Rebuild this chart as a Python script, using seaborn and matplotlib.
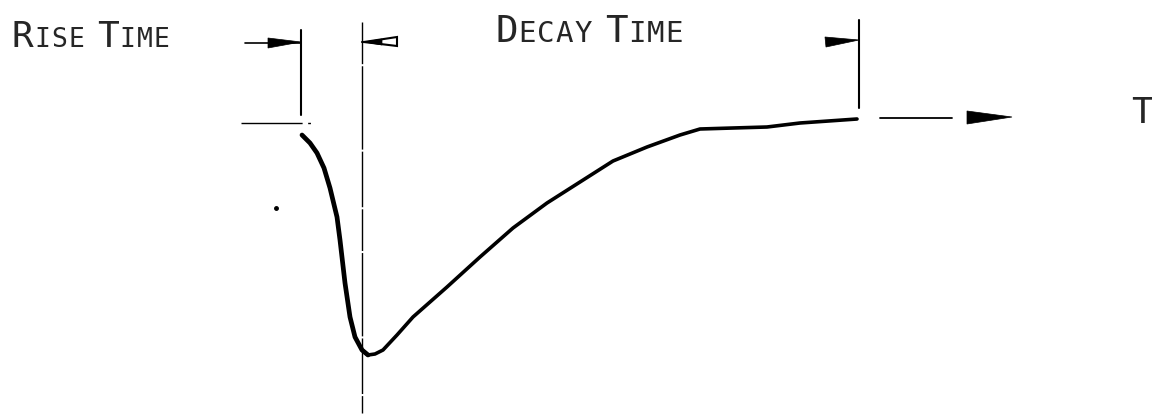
import numpy as np
import matplotlib
matplotlib.use("Agg")
import matplotlib.pyplot as plt
import seaborn as sns
import pandas as pd

# ---------------- data (time units arbitrary, amplitude relative to baseline) ----
pulse_t = [0, 8, 15, 22, 28, 35, 38, 43, 48, 53, 60, 66, 73, 81, 95, 111, 128,
           145, 178, 211, 245, 278, 311, 345, 378, 398, 431, 465, 498, 555]
pulse_a = [-12, -20, -30, -45, -65, -94, -117, -160, -194, -214, -227, -232,
           -231, -227, -212, -194, -179, -164, -134, -105, -80, -59, -38, -24,
           -12, -6, -5, -4, 0, 4]
rise_start = -1
peak_time = 60
decay_end = 557
labels = ["Rise Time", "Decay Time"]
axis_label = "T"

sns.set_style("white")
plt.rcParams['font.family'] = ['DejaVu Sans']

fig = plt.figure(figsize=(11.52, 4.19), dpi=100)
ax = fig.add_axes([0, 0, 1, 1])
ax.set_xlim(-302, 850)
ax.set_ylim(-296, 123)
ax.axis("off")

df = pd.DataFrame({"t": pulse_t, "a": pulse_a})
fall = df[df["t"] <= 66]
decay = df[df["t"] >= 60]
sns.lineplot(data=fall, x="t", y="a", ax=ax, color="black", lw=3.4,
             sort=False, solid_capstyle="round", solid_joinstyle="round")
sns.lineplot(data=decay, x="t", y="a", ax=ax, color="black", lw=2.6,
             sort=False, solid_capstyle="round", solid_joinstyle="round")

# baseline (left, dashed) and right continuation
ax.plot([-61, 31], [0, 0], color="black", lw=1.0,
        dashes=(44, 4, 2, 24, 5, 12, 1, 100))
ax.plot([decay_end + 21, decay_end + 93], [5, 5], color="black", lw=1.3)
# arrow head on time axis
ax.fill([decay_end + 108, decay_end + 108, decay_end + 153],
        [12, -1, 6], color="black", lw=0.5)

# vertical markers
ax.plot([rise_start, rise_start], [93, 8], color="black", lw=1.5)
ax.plot([peak_time, peak_time], [101, -290], color="black", lw=1.0,
        dashes=(30, 1.5, 60, 1.5, 40, 1.5))
ax.plot([decay_end, decay_end], [103, 15], color="black", lw=1.5)

# stray dot of the original drawing
ax.plot([-26], [-85], marker="o", ms=2.5, color="black")

# rise arrow (pointing right to rise start)
yA = 80
ax.plot([rise_start - 56, rise_start], [yA, yA], color="black", lw=1.2)
ax.fill([rise_start - 33, rise_start - 33, rise_start],
        [yA + 5, yA - 5, yA + 1], color="black", lw=0.5)
# peak arrow (hollow, pointing left to peak)
yB = 81
ax.plot([peak_time, peak_time + 10], [yB, yB], color="black", lw=1.5)
ax.fill([peak_time + 35, peak_time + 35, peak_time + 2],
        [yB + 5, yB - 4, yB], facecolor="white", edgecolor="black", lw=1.5)
ax.fill([peak_time + 20, peak_time + 20, peak_time + 2],
        [yB + 3, yB - 3, yB], color="black", lw=0.5)
# decay end arrow (pointing right)
yC = 82
ax.fill([decay_end - 34, decay_end - 33, decay_end],
        [yC + 4, yC - 6, yC + 1], color="black", lw=0.5)


def caps_text(x, y, text, big, small, track=0.0, family="DejaVu Sans Mono"):
    """Draw small-caps style text starting at data x, baseline y."""
    fig.canvas.draw()
    r = fig.canvas.get_renderer()
    inv = ax.transData.inverted()
    cur = x
    first_word_char = True
    for ch in text:
        if ch == " ":
            cur += big * 0.45
            first_word_char = True
            continue
        size = big if first_word_char else small
        first_word_char = False
        t = ax.text(cur, y, ch.upper(), fontsize=size, family=family,
                    fontweight="light", va="baseline", ha="left")
        bb = t.get_window_extent(renderer=r)
        (x0, _), (x1, _) = inv.transform([[bb.x0, bb.y0], [bb.x1, bb.y1]])
        cur = x1 + track


caps_text(-290, 76, labels[0], 26, 19, track=1.0)
caps_text(193, 81, labels[1], 27, 21, track=1.0)
ax.text(840, 0, axis_label, fontsize=26, family="DejaVu Sans Mono",
        va="baseline", ha="center")

fig.savefig("out.png", dpi=100, facecolor="white")
